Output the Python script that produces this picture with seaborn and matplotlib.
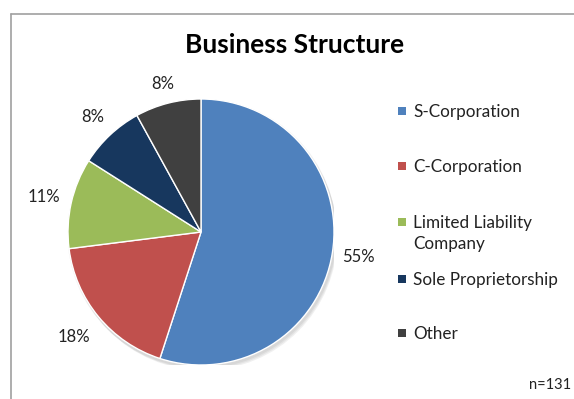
import matplotlib
matplotlib.use("Agg")
import matplotlib.pyplot as plt
from matplotlib.patches import Rectangle
from matplotlib.lines import Line2D
import seaborn as sns

# Survey responses by business structure (percent of respondents)
categories = ["S-Corporation", "C-Corporation", "Limited Liability\nCompany",
              "Sole Proprietorship", "Other"]
shares = [55, 18, 11, 8, 8]
colors = ["#4F81BD", "#C0504D", "#9BBB59", "#17375E", "#404040"]
title = "Business Structure"
sample_note = "n=131"

# radial offset of each percentage label, in pie radii
label_radius = [1.2, 1.24, 1.21, 1.19, 1.15]

sns.set_theme(style="white")
plt.rcParams["font.family"] = ["Lato", "DejaVu Sans"]

W, H = 574, 399
fig = plt.figure(figsize=(W / 100, H / 100), dpi=100)
fig.patch.set_facecolor("white")

# chart frame (left and top edges visible)
fig.add_artist(Line2D([10.5 / W, 10.5 / W], [0, 1 - 14 / H], color="#A0A0A0", lw=1.2,
                      transform=fig.transFigure))
fig.add_artist(Line2D([10.5 / W, 1], [1 - 14 / H, 1 - 14 / H], color="#A0A0A0", lw=1.2,
                      transform=fig.transFigure))

cx, cy, r = 201, 232, 133
ax = fig.add_axes([(cx - r) / W, (H - cy - r) / H, 2 * r / W, 2 * r / H])

# soft shadow behind the pie
for i, a in enumerate([0.05, 0.05, 0.06]):
    d = 0.012 * (i + 1)
    ax.add_patch(plt.Circle((d * 0.6, -d), 1.0 + 0.004 * (3 - i), color="black",
                            alpha=a, lw=0, zorder=0))

wedges, texts, autotexts = ax.pie(
    shares, colors=colors, startangle=90, counterclock=False,
    autopct="%.0f%%", pctdistance=1.0,
    wedgeprops=dict(edgecolor="white", linewidth=1.0),
    textprops=dict(fontsize=12, color="#222222"))
for w in wedges:
    w.set_zorder(2)
for t, f in zip(autotexts, label_radius):
    x, y = t.get_position()
    t.set_position((x * f, y * f))
ax.set_xlim(-1, 1)
ax.set_ylim(-1, 1)
ax.set_aspect("equal")
ax.axis("off")

fig.text(295 / W, 1 - 53 / H, title, ha="center", va="baseline",
         fontsize=19, fontweight="bold", color="black")

# legend with square markers
marker_y = [111, 166, 222, 279, 333]
for name, col, y in zip(categories, colors, marker_y):
    fig.add_artist(Rectangle((398 / W, 1 - (y + 4) / H), 8 / W, 8 / H,
                             transform=fig.transFigure, facecolor=col, lw=0))
    fig.text(413 / W, 1 - (y - 7) / H, name, ha="left", va="top",
             fontsize=12.3, color="#222222", linespacing=1.35)

fig.text(571 / W, 1 - 385 / H, sample_note, ha="right", va="center",
         fontsize=10.5, color="#222222")

fig.savefig("out.png", dpi=100)
